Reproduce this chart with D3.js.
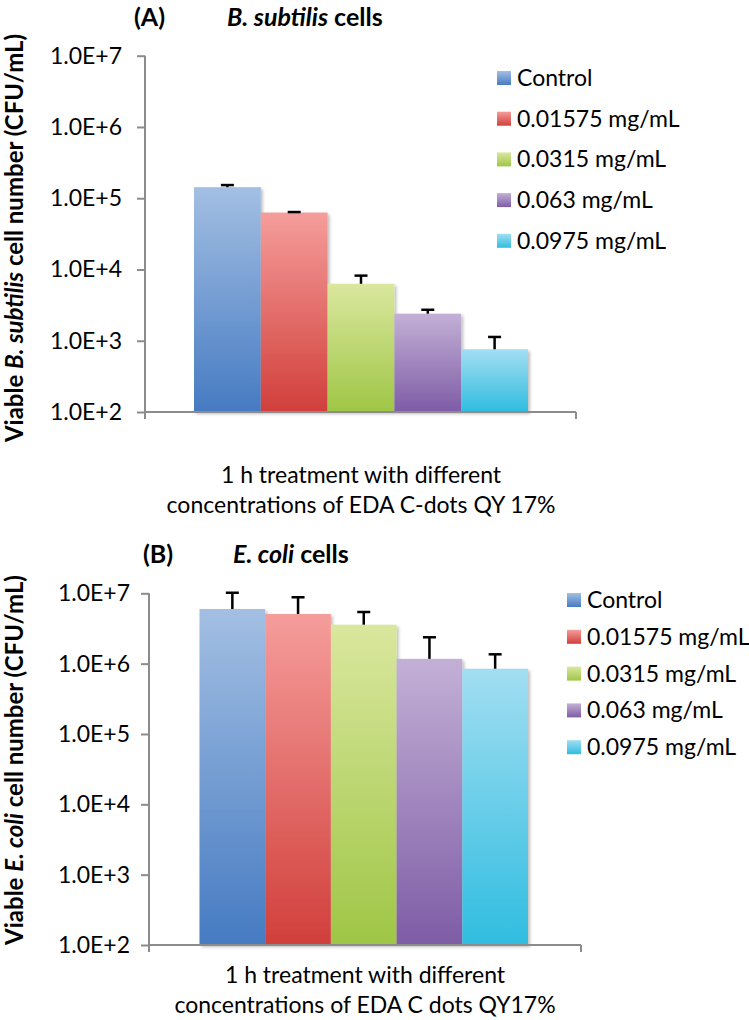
<!DOCTYPE html>
<html><head><meta charset="utf-8">
<script src="https://cdn.jsdelivr.net/npm/d3@7"></script>
<style>
html,body{margin:0;padding:0;background:#fff;}
svg{display:block;font-family:Lato,"Open Sans",sans-serif;}
</style></head>
<body>
<svg id="chart" width="749" height="1020"></svg>
<script>
const series = ["Control", "0.01575 mg/mL", "0.0315 mg/mL", "0.063 mg/mL", "0.0975 mg/mL"];
const bsubValues = [1.43e5, 6.3e4, 6.3e3, 2.4e3, 7.6e2];
const bsubErrors = [1.0e4, 1.0e3, 1.9e3, 3.2e2, 3.7e2];
const ecoliValues = [5.98e6, 5.08e6, 3.58e6, 1.17e6, 8.47e5];
const ecoliErrors = [4.2e6, 3.7e6, 1.84e6, 1.2e6, 5.1e5];
const tickValues = [1e2, 1e3, 1e4, 1e5, 1e6, 1e7];
const tickLabels = ["1.0E+2", "1.0E+3", "1.0E+4", "1.0E+5", "1.0E+6", "1.0E+7"];
const colorsTop = ["#a3bfe3", "#f59d9b", "#dae79e", "#c3b0d6", "#a2def2"];
const colorsBottom = ["#467bc2", "#d13f3b", "#9fc646", "#7e5ca6", "#30bde0"];

const svg = d3.select("#chart");
const defs = svg.append("defs");
series.forEach((s, i) => {
  const g = defs.append("linearGradient").attr("id", "grad" + i)
    .attr("x1", 0).attr("y1", 0).attr("x2", 0).attr("y2", 1);
  g.append("stop").attr("offset", "0%").attr("stop-color", colorsTop[i]);
  g.append("stop").attr("offset", "100%").attr("stop-color", colorsBottom[i]);
});
const f = defs.append("filter").attr("id", "shadow").attr("x", "-10%").attr("y", "-10%").attr("width", "130%").attr("height", "130%");
f.append("feDropShadow").attr("dx", 2).attr("dy", 2).attr("stdDeviation", 1.5).attr("flood-color", "#000").attr("flood-opacity", 0.25);

function panel(cfg) {
  const g = svg.append("g");
  const y = d3.scaleLog().domain([1e2, 1e7]).range([cfg.y0, cfg.y1]);
  const x = d3.scaleBand().domain(series).range([cfg.barL, cfg.barR]).padding(0);

  g.selectAll("rect.bar").data(cfg.values).enter().append("rect")
    .attr("class", "bar")
    .attr("x", (d, i) => x(series[i]))
    .attr("width", x.bandwidth())
    .attr("y", d => y(d))
    .attr("height", d => y(1e2) - y(d))
    .attr("fill", (d, i) => "url(#grad" + i + ")")
    .attr("filter", "url(#shadow)");

  const eb = g.selectAll("g.err").data(cfg.values).enter().append("g").attr("class", "err");
  eb.append("line")
    .attr("x1", (d, i) => x(series[i]) + x.bandwidth() / 2)
    .attr("x2", (d, i) => x(series[i]) + x.bandwidth() / 2)
    .attr("y1", d => y(d))
    .attr("y2", (d, i) => y(d + cfg.errors[i]))
    .attr("stroke", "#000").attr("stroke-width", 2.5);
  eb.append("line")
    .attr("x1", (d, i) => x(series[i]) + x.bandwidth() / 2 - 6.5)
    .attr("x2", (d, i) => x(series[i]) + x.bandwidth() / 2 + 6.5)
    .attr("y1", (d, i) => y(d + cfg.errors[i]))
    .attr("y2", (d, i) => y(d + cfg.errors[i]))
    .attr("stroke", "#000").attr("stroke-width", 2.5);

  const yAxis = d3.axisLeft(y).tickValues(tickValues)
    .tickFormat((d, i) => tickLabels[i]).tickSizeOuter(0).tickSizeInner(8).tickPadding(cfg.tickPad);
  const ya = g.append("g").attr("transform", `translate(${cfg.axisX},0)`).call(yAxis);
  ya.select(".domain").attr("stroke", "#8c8c8c").attr("stroke-width", 2)
    .attr("d", `M0,${cfg.y1}V${cfg.y0 + 7}`);
  ya.selectAll(".tick line").attr("stroke", "#8c8c8c").attr("stroke-width", 2);
  ya.selectAll(".tick text").attr("fill", "#000").attr("font-size", 23)
    .attr("font-family", "Lato, sans-serif");

  g.append("line").attr("x1", cfg.axisX).attr("x2", cfg.axisR)
    .attr("y1", cfg.y0).attr("y2", cfg.y0)
    .attr("stroke", "#8c8c8c").attr("stroke-width", 2);
  g.append("line").attr("x1", cfg.axisR).attr("x2", cfg.axisR)
    .attr("y1", cfg.y0).attr("y2", cfg.y0 + 7)
    .attr("stroke", "#8c8c8c").attr("stroke-width", 2);

  const xl = g.append("text").attr("text-anchor", "middle").attr("font-size", 23).attr("fill", "#000");
  cfg.xLabel.forEach((t, i) => {
    xl.append("tspan").attr("x", cfg.xLabelX).attr("y", cfg.xLabelY + i * 30).text(t);
  });

  const yt = g.append("text").attr("text-anchor", "middle").attr("font-size", 24).attr("font-weight", "bold")
    .attr("transform", `translate(${cfg.yTitleX},${cfg.yTitleY}) rotate(-90)`);
  cfg.yTitle.forEach(p => {
    yt.append("tspan").attr("font-style", p.italic ? "italic" : "normal").text(p.t);
  });

  g.append("text").attr("x", cfg.titleX).attr("y", cfg.titleY).attr("font-size", 25).attr("font-weight", "bold").text(cfg.letter);
  const tt = g.append("text").attr("x", cfg.titleX2).attr("y", cfg.titleY).attr("font-size", 25).attr("font-weight", "bold");
  cfg.title.forEach(p => {
    tt.append("tspan").attr("font-style", p.italic ? "italic" : "normal").text(p.t);
  });

  const lg = g.selectAll("g.leg").data(series).enter().append("g").attr("class", "leg")
    .attr("transform", (d, i) => `translate(${cfg.legX},${cfg.legY + i * cfg.legStep})`);
  lg.append("rect").attr("x", 0).attr("y", -7).attr("width", 14).attr("height", 14)
    .attr("fill", (d, i) => "url(#grad" + i + ")");
  lg.append("text").attr("x", 20).attr("y", 0).attr("dy", "0.35em").attr("font-size", 23).text(d => d);
}

panel({
  y0: 412, y1: 55.7, axisX: 145, axisR: 576, barL: 194, barR: 528, tickPad: 15,
  values: bsubValues, errors: bsubErrors,
  xLabel: ["1 h treatment with different", "concentrations of EDA C-dots QY 17%"],
  xLabelX: 361, xLabelY: 483,
  yTitle: [{t: "Viable "}, {t: "B. subtilis", italic: true}, {t: " cell number (CFU/mL)"}],
  yTitleX: 23, yTitleY: 238,
  letter: "(A)", titleX: 134, titleX2: 227, titleY: 26,
  title: [{t: "B. subtilis", italic: true}, {t: " cells"}],
  legX: 497, legY: 78, legStep: 40.7
});

panel({
  y0: 945, y1: 593.3, axisX: 149, axisR: 581, barL: 199.5, barR: 528, tickPad: 11,
  values: ecoliValues, errors: ecoliErrors,
  xLabel: ["1 h treatment with different", "concentrations of EDA C dots QY17%"],
  xLabelX: 365, xLabelY: 983,
  yTitle: [{t: "Viable "}, {t: "E. coli", italic: true}, {t: " cell number (CFU/mL)"}],
  yTitleX: 23, yTitleY: 760,
  letter: "(B)", titleX: 143, titleX2: 233, titleY: 563,
  title: [{t: "E. coli", italic: true}, {t: " cells"}],
  legX: 567, legY: 600, legStep: 36.8
});
</script>
</body></html>
